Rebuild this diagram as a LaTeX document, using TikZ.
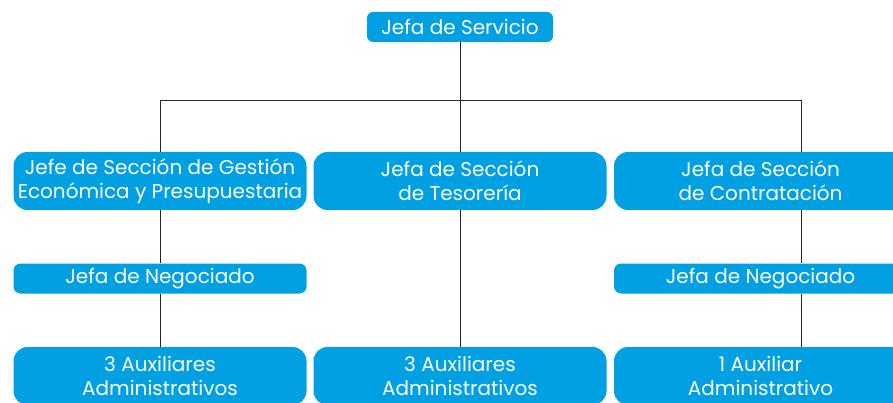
\documentclass[tikz,border=0pt]{standalone}
\usepackage{fontspec}
\setmainfont{Poppins}
\usetikzlibrary{positioning}
\definecolor{boxblue}{RGB}{0,160,227}

\begin{document}
\begin{tikzpicture}[x=1pt, y=-1pt,
box/.style={fill=boxblue, text=white, rounded corners=14pt, minimum width=293pt,
  minimum height=58pt, inner sep=0pt, align=center, font=\fontsize{20}{24}\selectfont},
slimbox/.style={box, rounded corners=7pt, minimum height=30pt},
link/.style={draw=black!85, line width=1pt}]

\useasboundingbox (0,0) rectangle (893,403);
\clip (0,0) rectangle (893,403);

\def\colA{160}
\def\colB{460}
\def\colC{760.5}
\def\rail{801}   % right branch runs off-centre

% boxes
\node[slimbox, minimum width=186pt, rounded corners=6pt] (servicio) at (\colB,27) {Jefa de Servicio};

\node[box] (gestion) at (\colA,181) {Jefe de Sección de Gestión\\Económica y Presupuestaria};
\node[box] (tesoreria) at (\colB,181) {Jefa de Sección\\de Tesorería};
\node[box] (contratacion) at (\colC,181) {Jefa de Sección\\de Contratación};

\node[slimbox] (negA) at (\colA,278.5) {Jefa de Negociado};
\node[slimbox] (negC) at (\colC,278.5) {Jefa de Negociado};

\node[box] (auxA) at (\colA,376) {3 Auxiliares\\Administrativos};
\node[box] (auxB) at (\colB,376) {3 Auxiliares\\Administrativos};
\node[box] (auxC) at (\colC,376) {1 Auxiliar\\Administrativo};

% links
\coordinate (railtop) at (\rail,101);
\draw[link] (servicio) -- (tesoreria);
\draw[link] (gestion.north) |- (railtop) -- (railtop |- contratacion.north);
\draw[link] (gestion) -- (negA);
\draw[link] (negA) -- (auxA);
\draw[link] (tesoreria) -- (auxB);
\draw[link] (railtop |- contratacion.south) -- (railtop |- negC.north);
\draw[link] (railtop |- negC.south) -- (railtop |- auxC.north);

\end{tikzpicture}
\end{document}
